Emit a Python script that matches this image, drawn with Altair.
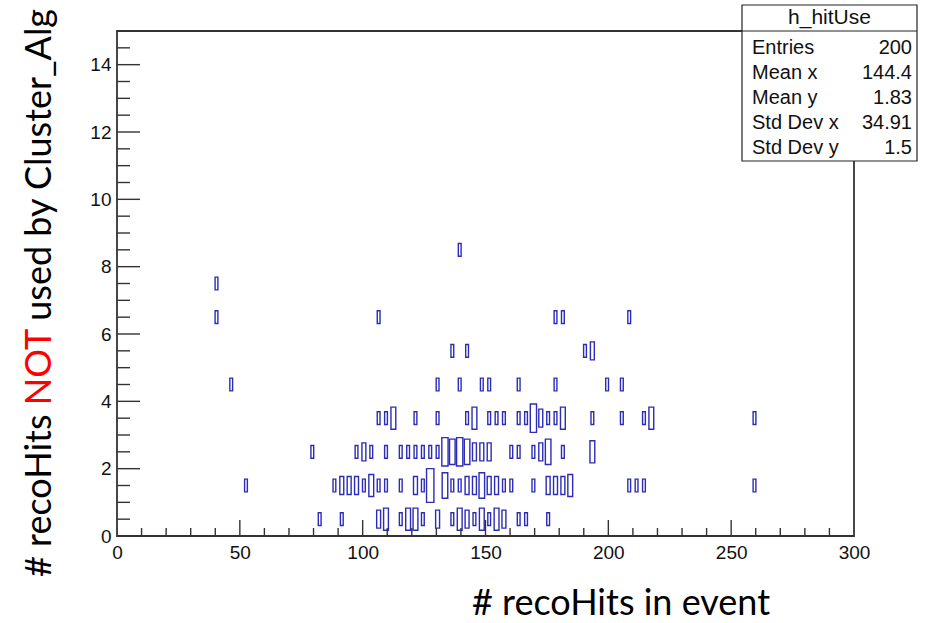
import altair as alt
import pandas as pd

# h_hitUse: 2D histogram, x bins 3 wide on [0, 300), y bins 1 wide on [0, 15)
# For each y row: centres of the occupied x bins and their entries
x_row0 = [82.5, 91.5, 106.5, 109.5, 115.5, 118.5, 121.5, 124.5, 130.5, 136.5,
          139.5, 142.5, 145.5, 148.5, 151.5, 154.5, 157.5, 163.5, 166.5, 175.5]
n_row0 = [1, 1, 2, 3, 1, 3, 3, 1, 2, 1, 3, 2, 1, 3, 1, 3, 2, 1, 1, 1]

x_row1 = [52.5, 88.5, 91.5, 94.5, 97.5, 100.5, 103.5, 106.5, 109.5, 115.5,
          121.5, 124.5, 127.5, 133.5, 136.5, 139.5, 142.5, 145.5, 148.5, 151.5,
          154.5, 157.5, 160.5, 169.5, 175.5, 178.5, 181.5, 184.5, 208.5, 211.5,
          214.5, 259.5]
n_row1 = [1, 1, 2, 2, 2, 1, 3, 1, 1, 1, 2, 1, 7, 4, 1, 1, 2, 2, 4, 2,
          2, 1, 1, 1, 2, 2, 2, 3, 1, 1, 1, 1]

x_row2 = [79.5, 97.5, 100.5, 103.5, 109.5, 115.5, 118.5, 121.5, 124.5, 127.5,
          130.5, 133.5, 136.5, 139.5, 142.5, 145.5, 148.5, 151.5, 160.5, 163.5,
          169.5, 172.5, 175.5, 181.5, 193.5]
n_row2 = [1, 1, 2, 1, 1, 1, 1, 1, 1, 1, 1, 5, 4, 5, 4, 2, 2, 2, 1, 1,
          1, 2, 4, 1, 3]

x_row3 = [106.5, 109.5, 112.5, 121.5, 130.5, 142.5, 145.5, 151.5, 154.5, 157.5,
          163.5, 166.5, 169.5, 172.5, 175.5, 178.5, 181.5, 193.5, 205.5, 214.5,
          217.5, 259.5]
n_row3 = [1, 1, 3, 1, 1, 1, 3, 1, 1, 1, 1, 1, 5, 2, 1, 1, 3, 1, 1, 1, 3, 1]

x_row4 = [46.5, 130.5, 139.5, 148.5, 151.5, 163.5, 178.5, 199.5, 205.5]
n_row4 = [1, 1, 1, 1, 1, 1, 1, 1, 1]

x_row5 = [136.5, 142.5, 190.5, 193.5]
n_row5 = [1, 1, 1, 2]

x_row6 = [40.5, 106.5, 178.5, 181.5, 208.5]
n_row6 = [1, 1, 1, 1, 1]

x_row7 = [40.5]
n_row7 = [1]

x_row8 = [139.5]
n_row8 = [1]

# Axis tick positions
x_labels = [0, 50, 100, 150, 200, 250, 300]
x_major_ticks = [50, 100, 150, 200, 250]
x_minor_ticks = [v for v in range(10, 300, 10) if v % 50 != 0]
y_labels = [0, 2, 4, 6, 8, 10, 12, 14]
y_major_ticks = [2, 4, 6, 8, 10, 12, 14]
y_minor_ticks = [v / 2 for v in range(1, 30) if v % 4 != 0]

# Statistics box
stats_name = "h_hitUse"
stats_labels = ["Entries", "Mean x", "Mean y", "Std Dev x", "Std Dev y"]
stats_values = ["200", "144.4", "1.83", "34.91", "1.5"]

X_BIN = 3.0
Y_BIN = 1.0
W, H = 737, 505
BOX_BLUE = "#2c2cb6"
FRAME = "#333333"

rows_x = [x_row0, x_row1, x_row2, x_row3, x_row4, x_row5, x_row6, x_row7, x_row8]
rows_n = [n_row0, n_row1, n_row2, n_row3, n_row4, n_row5, n_row6, n_row7, n_row8]
cells = []
for ylow, (xs, ns) in enumerate(zip(rows_x, rows_n)):
    for xc, n in zip(xs, ns):
        cells.append({"xc": xc, "yc": ylow + Y_BIN / 2, "n": n})
cells = pd.DataFrame(cells)

x_scale = alt.Scale(domain=[0, 300], nice=False, zero=False)
y_scale = alt.Scale(domain=[0, 15], nice=False, zero=False)
axis_style = dict(
    labelFont="Liberation Sans", labelFontSize=19, labelColor="#111111",
    domain=False, ticks=False, grid=False, labelFlush=False, labelOverlap=False,
    title=None,
)

# Box option: side of each box scales with sqrt(content / max content)
boxes = (
    alt.Chart(cells)
    .transform_joinaggregate(nmax="max(n)")
    .transform_calculate(r="sqrt(datum.n / datum.nmax)")
    .transform_calculate(
        x1=f"datum.xc - {X_BIN / 2} * datum.r",
        x2=f"datum.xc + {X_BIN / 2} * datum.r",
        y1=f"datum.yc - {Y_BIN / 2} * datum.r",
        y2=f"datum.yc + {Y_BIN / 2} * datum.r",
    )
    .mark_rect(filled=False, color=BOX_BLUE, strokeWidth=1.4)
    .encode(
        x=alt.X("x1:Q", scale=x_scale,
                axis=alt.Axis(values=x_labels, labelPadding=7, **axis_style)),
        x2="x2:Q",
        y=alt.Y("y1:Q", scale=y_scale,
                axis=alt.Axis(values=y_labels, labelPadding=6, **axis_style)),
        y2="y2:Q",
    )
)

# Inward ticks on the bottom and left frame edges
def x_ticks(values, length):
    return alt.Chart(pd.DataFrame({"v": values})).mark_rule(
        color=FRAME, strokeWidth=1.4
    ).encode(x=alt.X("v:Q", scale=x_scale), y=alt.value(H), y2=alt.value(H - length))

def y_ticks(values, length):
    return alt.Chart(pd.DataFrame({"v": values})).mark_rule(
        color=FRAME, strokeWidth=1.4
    ).encode(y=alt.Y("v:Q", scale=y_scale), x=alt.value(0), x2=alt.value(length))

ticks = [x_ticks(x_major_ticks, 16), x_ticks(x_minor_ticks, 8),
         y_ticks(y_major_ticks, 23), y_ticks(y_minor_ticks, 13)]

# Statistics box in the upper right corner
one = pd.DataFrame({"k": [0]})
BX0, BX1, BY0, BY1 = 625, 800, -26, 130
stat_layers = [
    alt.Chart(one).mark_rect(fill="white", stroke="#222222", strokeWidth=1.2)
    .encode(x=alt.value(BX0), x2=alt.value(BX1), y=alt.value(BY0), y2=alt.value(BY1)),
    alt.Chart(one).mark_rule(color="#222222", strokeWidth=1.2)
    .encode(x=alt.value(BX0), x2=alt.value(BX1), y=alt.value(0)),
    alt.Chart(one).mark_text(font="Liberation Sans", fontSize=21, color="#111111",
                             align="center", baseline="middle")
    .encode(x=alt.value((BX0 + BX1) / 2), y=alt.value(-13), text=alt.value(stats_name)),
]
for i, (lab, val) in enumerate(zip(stats_labels, stats_values)):
    yy = 17 + 25 * i
    stat_layers.append(
        alt.Chart(one).mark_text(font="Liberation Sans", fontSize=20, color="#111111",
                                 align="left", baseline="middle")
        .encode(x=alt.value(BX0 + 10), y=alt.value(yy), text=alt.value(lab))
    )
    stat_layers.append(
        alt.Chart(one).mark_text(font="Liberation Sans", fontSize=20, color="#111111",
                                 align="right", baseline="middle")
        .encode(x=alt.value(BX1 - 5), y=alt.value(yy), text=alt.value(val))
    )

# Axis titles. The y title is drawn whole, then its leading part is wiped
# with white and redrawn so that only the word NOT ends up red.
TITLE_FONT = "Lato"
TITLE_SIZE = 36
y_title_full = "# recoHits NOT used by Cluster_Alg"
y_title_red = "# recoHits NOT"
y_title_head = "# recoHits"


def y_title(text, color, erase=False):
    props = dict(font=TITLE_FONT, fontSize=TITLE_SIZE, color=color, angle=270,
                 align="left", baseline="middle")
    if erase:
        props.update(stroke="white", strokeWidth=2.5)
    return alt.Chart(one).mark_text(**props).encode(
        x=alt.value(-77), y=alt.value(546), text=alt.value(text)
    )


title_layers = [
    y_title(y_title_full, "black"),
    y_title(y_title_red, "white", erase=True),
    y_title(y_title_red, "#ff0000"),
    y_title(y_title_head, "white", erase=True),
    y_title(y_title_head, "black"),
    alt.Chart(one).mark_text(
        font=TITLE_FONT, fontSize=TITLE_SIZE, color="black",
        align="center", baseline="alphabetic",
    ).encode(x=alt.value(504), y=alt.value(584), text=alt.value("# recoHits in event")),
]

chart = (
    alt.layer(boxes, *ticks, *stat_layers, *title_layers)
    .properties(
        width=W, height=H,
        autosize=alt.AutoSizeParams(type="none"),
        padding={"left": 117, "top": 31, "right": 86, "bottom": 87},
        background="white",
    )
    .configure_view(stroke=FRAME, strokeWidth=1.8)
)

chart.save("out.html", embed_options={"renderer": "svg", "actions": False})
